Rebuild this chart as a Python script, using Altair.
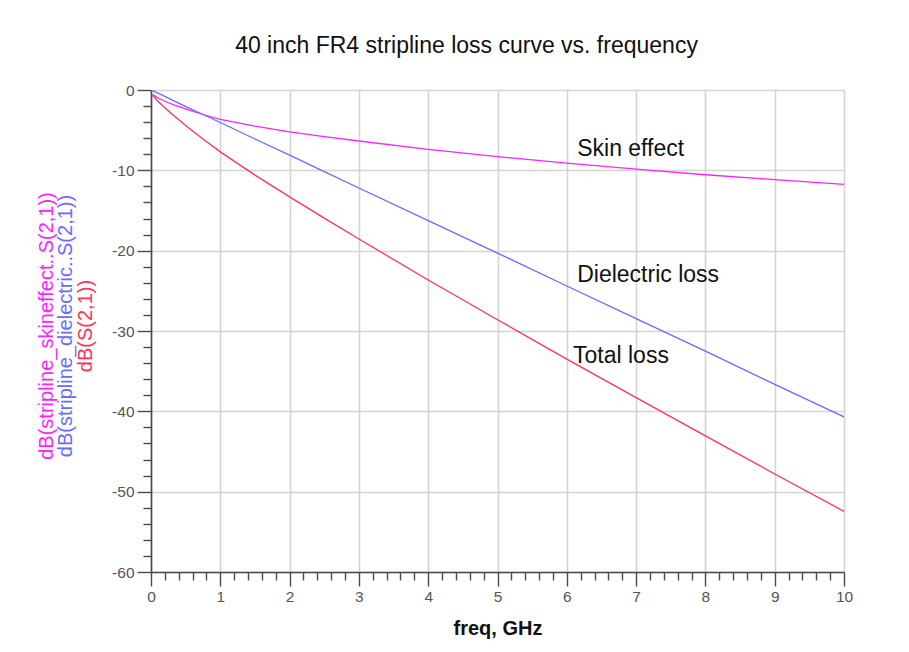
import altair as alt
import pandas as pd

# ---- data ----
freq = [0.02, 0.1, 0.2, 0.33, 0.55, 0.75, 1, 1.5, 2, 2.5, 3, 4, 5, 6, 7, 8, 9, 10]
skin = [-0.55, -1.0, -1.4, -1.85, -2.5, -3.05, -3.65, -4.5, -5.2, -5.8, -6.35,
        -7.4, -8.3, -9.1, -9.85, -10.55, -11.15, -11.75]
diel = [-0.08, -0.4, -0.8, -1.35, -2.25, -3.05, -4.05, -6.1, -8.1, -10.15,
        -12.2, -16.25, -20.3, -24.4, -28.45, -32.5, -36.65, -40.7]
total = [-0.63, -1.4, -2.2, -3.2, -4.75, -6.1, -7.7, -10.6, -13.3, -15.95,
         -18.55, -23.65, -28.6, -33.5, -38.3, -43.05, -47.8, -52.45]

series_names = ["skin", "diel", "total"]
series_colors = ["#ff22ff", "#6b6bff", "#ff3355"]

ann_text = ["Skin effect", "Dielectric loss", "Total loss"]
ann_freq = [6.15, 6.15, 6.09]
ann_db = [-7.3, -23.0, -33.1]

ytitle_text = ["dB(stripline_skineffect..S(2,1))",
               "dB(stripline_dielectric..S(2,1))",
               "dB(S(2,1))"]

x_ticks = [round(i * 0.2, 1) for i in range(51)]
y_ticks = list(range(-60, 1, 2))

FONT = "Liberation Sans"

rows = []
for name, vals in zip(series_names, [skin, diel, total]):
    for f, v in zip(freq, vals):
        rows.append({"freq": f, "db": v, "series": name})
df = pd.DataFrame(rows)

ann_df = pd.DataFrame({"text": ann_text, "freq": ann_freq, "db": ann_db})

x_major = "abs(datum.value - round(datum.value)) < 0.001"
y_major = "datum.value % 10 === 0"

xaxis = alt.Axis(
    values=x_ticks, tickCount=51,
    labelExpr=f"{x_major} ? '' + round(datum.value) : ''",
    tickSize={"condition": {"test": x_major, "value": 14}, "value": 8},
    gridOpacity={"condition": {"test": x_major, "value": 1}, "value": 0},
    gridColor="#d4d4d4", gridWidth=1.6,
    domainColor="#4a4a4a", domainWidth=1.6,
    tickColor="#4a4a4a", tickWidth=1.4,
    labelFont=FONT, labelFontSize=15.5, labelColor="#555555",
    labelPadding=3, labelFlush=False, labelOverlap=False,
    title="freq, GHz", titleFont=FONT, titleFontSize=20,
    titleFontWeight="bold", titleColor="#111111", titlePadding=14,
)
yaxis = alt.Axis(
    values=y_ticks, tickCount=31,
    labelExpr=f"{y_major} ? '' + datum.value : ''",
    tickSize={"condition": {"test": y_major, "value": 14}, "value": 8},
    gridOpacity={"condition": {"test": y_major, "value": 1}, "value": 0},
    gridColor="#d4d4d4", gridWidth=1.6,
    domainColor="#4a4a4a", domainWidth=1.6,
    tickColor="#4a4a4a", tickWidth=1.4,
    labelFont=FONT, labelFontSize=15.5, labelColor="#555555",
    labelPadding=3, labelFlush=False, labelOverlap=False,
    title=None,
)

xs = alt.Scale(domain=[0, 10], nice=False, zero=False)
ys = alt.Scale(domain=[-60, 0], nice=False, zero=False)

lines = alt.Chart(df).mark_line(strokeWidth=1.3).encode(
    x=alt.X("freq:Q", scale=xs, axis=xaxis),
    y=alt.Y("db:Q", scale=ys, axis=yaxis),
    color=alt.Color("series:N", scale=alt.Scale(domain=series_names, range=series_colors), legend=None),
)

ann = alt.Chart(ann_df).mark_text(
    align="left", baseline="middle", font=FONT, fontSize=23, color="#111111"
).encode(x=alt.X("freq:Q", scale=xs, axis=xaxis),
         y=alt.Y("db:Q", scale=ys, axis=yaxis), text="text:N")

ytitle_x = [-104, -85, -65]
ytitle_layers = []
for t, c, px in zip(ytitle_text, series_colors, ytitle_x):
    ytitle_layers.append(
        alt.Chart(pd.DataFrame({"t": [t]})).mark_text(
            angle=270, align="center", baseline="middle", font=FONT,
            fontSize=20, color=c
        ).encode(text="t:N", x=alt.value(px), y=alt.value(236))
    )

chart = alt.layer(lines, ann, *ytitle_layers).properties(
    width=693, height=482,
    title=alt.TitleParams(
        "40 inch FR4 stripline loss curve vs. frequency",
        font=FONT, fontSize=23, fontWeight="normal", color="#111111",
        anchor="middle", frame="group", dx=-31, offset=25,
    ),
    autosize="none",
    padding={"left": 143, "top": 82, "right": 50, "bottom": 70},
).configure_view(stroke="#4a4a4a", strokeWidth=1.8).configure(background="white")

chart.save("out.html", embed_options={"renderer": "svg", "actions": False})
